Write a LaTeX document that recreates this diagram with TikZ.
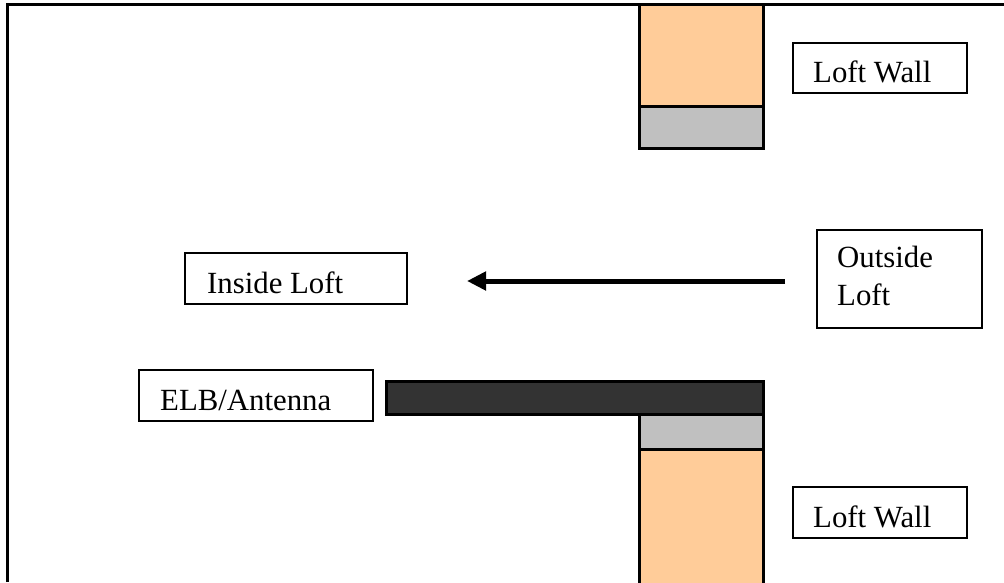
\documentclass[tikz,border=0pt]{standalone}
\usepackage{fontspec}
\setmainfont{Liberation Serif}
\usetikzlibrary{arrows.meta}
\definecolor{wallorange}{HTML}{FFCC99}
\definecolor{wallgray}{HTML}{C0C0C0}
\definecolor{antdark}{HTML}{333333}
\tikzset{
  lbox/.style={draw=black, line width=2pt, fill=white},
  wallpart/.style={draw=black, line width=3pt},
  lbl/.style={anchor=base west, inner sep=0pt, font=\fontsize{30.8}{38}\selectfont},
}
\begin{document}
\begin{tikzpicture}[x=1pt,y=-1pt]
\useasboundingbox (0,0) rectangle (1004,582);
% frame
\draw[line width=3.5pt] (7.5,582) -- (7.5,4.5) -- (1004,4.5);
% upper wall
\draw[wallpart, fill=wallorange] (639,4.5) rectangle (763,106);
\draw[wallpart, fill=wallgray] (639,106) rectangle (763,148);
% antenna bar and lower wall
\draw[wallpart, fill=wallorange] (639,449) rectangle (763,590);
\draw[wallpart, fill=wallgray] (639,414) rectangle (763,449);
\draw[wallpart, fill=antdark] (386,381) rectangle (763,414);
% label boxes
\draw[lbox] (793,43) rectangle (967,93);
\node[lbl] (lw1) at (813,82) {Loft Wall};
\draw[lbox] (185,253) rectangle (407,304);
\node[lbl] (inside) at (207,293) {Inside Loft};
\draw[lbox] (817,230) rectangle (982,328);
\node[lbl] (out1) at (837,267) {Outside};
\node[lbl] (out2) at (837,305) {Loft};
\draw[lbox] (139,370) rectangle (373,421);
\node[lbl] (elb) at (160,410) {ELB/Antenna};
\draw[lbox] (793,487) rectangle (967,538);
\node[lbl] (lw2) at (813,527) {Loft Wall};
% arrow
\coordinate (arrS) at (785,281);
\coordinate (arrE) at (467,281);
\draw[line width=5pt, -{Triangle[length=19pt,width=18pt]}] (arrS) -- (arrE);
\end{tikzpicture}
\end{document}
